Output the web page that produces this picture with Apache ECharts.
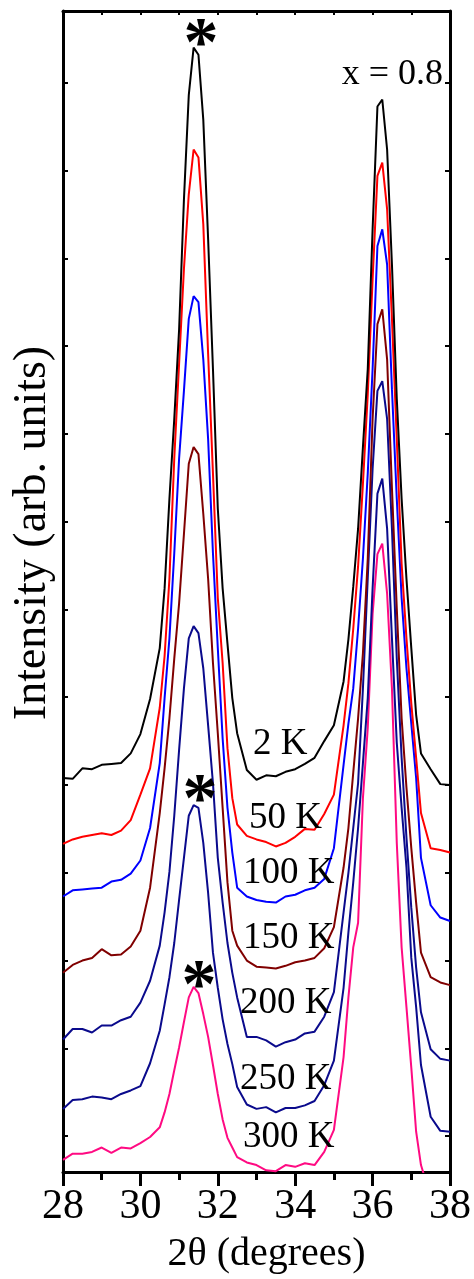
<!DOCTYPE html>
<html><head><meta charset="utf-8">
<script src="https://cdn.jsdelivr.net/npm/echarts@6/dist/echarts.min.js"></script>
<style>html,body{margin:0;padding:0;background:#fff}#c{width:474px;height:1279px}</style>
</head><body><div id="c"></div>
<script>
// 2θ (degrees)
const twoTheta = [28,28.25,28.5,28.75,29,29.25,29.5,29.75,30,30.25,
  30.5,30.625,30.75,30.875,31,31.125,31.25,31.375,31.5,31.625,31.75,31.875,32,32.125,32.25,32.375,32.5,
  32.75,33,33.25,33.5,33.75,34,34.25,34.5,34.75,35,35.25,
  35.375,35.5,35.625,35.75,35.875,36,36.125,36.25,36.375,36.5,36.625,36.75,36.875,37,37.125,37.25,
  37.5,37.75,38];

// Intensities (arb. units, curves offset vertically)
const int2K = [4.08,4.07,4.19,4.18,4.23,4.24,4.25,4.36,4.58,4.98,
  5.56,6.24,7.26,8.17,9.19,10.67,11.86,12.40,12.32,11.58,10.22,8.74,7.15,6.24,5.61,4.99,4.59,
  4.17,4.06,4.11,4.10,4.15,4.18,4.24,4.31,4.50,4.68,5.18,
  5.66,6.26,6.92,7.85,8.74,10.33,11.73,11.81,11.24,9.93,8.40,7.26,6.35,5.56,4.80,4.36,
  4.18,4.01,4.00];
const int50K = [3.33,3.38,3.41,3.43,3.45,3.43,3.48,3.60,3.89,4.19,
  4.88,5.47,6.35,7.72,8.80,9.88,10.73,11.24,11.15,10.39,8.91,7.55,6.13,5.39,4.42,3.85,3.55,
  3.42,3.38,3.35,3.30,3.34,3.41,3.50,3.49,3.67,3.89,4.68,
  5.16,5.78,6.49,7.43,8.45,9.76,10.94,11.09,10.56,9.31,7.94,6.52,5.67,4.93,4.31,3.68,
  3.28,3.26,3.23];
const int100K = [2.73,2.80,2.81,2.82,2.83,2.90,2.92,2.99,3.14,3.51,
  4.25,4.99,5.67,6.64,7.72,8.49,9.31,9.57,9.50,8.85,7.94,6.64,5.56,4.53,3.74,3.23,2.83,
  2.73,2.69,2.67,2.66,2.73,2.75,2.80,2.83,2.93,3.28,4.23,
  4.70,5.10,5.78,6.58,7.55,8.74,10.14,10.33,9.93,8.51,7.26,6.13,5.33,4.70,4.08,3.17,
  2.63,2.49,2.45];
const int150K = [1.86,1.95,2.00,2.03,2.13,2.06,2.07,2.16,2.34,2.83,
  3.68,4.19,4.76,5.44,6.07,6.86,7.66,7.85,7.77,7.09,6.35,5.39,4.59,3.74,2.89,2.34,2.17,
  2.00,1.93,1.92,1.91,1.94,1.98,2.00,2.03,2.14,2.38,3.06,
  3.51,4.14,4.76,5.50,6.58,8.17,9.25,9.42,8.85,7.38,6.01,4.76,3.97,3.28,2.66,2.09,
  1.81,1.75,1.72];
const int200K = [1.10,1.22,1.22,1.18,1.26,1.26,1.32,1.36,1.52,1.77,
  2.17,2.55,3.01,3.65,4.40,5.10,5.67,5.81,5.73,5.33,4.68,4.02,3.17,2.66,2.20,1.86,1.58,
  1.13,1.13,1.09,1.02,1.07,1.10,1.17,1.19,1.36,1.64,2.55,
  3.00,3.51,4.02,5.10,6.36,7.60,8.49,8.60,8.17,6.92,5.44,4.31,3.40,2.60,1.92,1.41,
  0.99,0.88,0.86];
const int250K = [0.31,0.41,0.42,0.45,0.44,0.42,0.48,0.52,0.57,0.83,
  1.20,1.50,1.81,2.20,2.69,3.17,3.65,3.77,3.74,3.34,2.77,2.09,1.69,1.33,1.05,0.82,0.56,
  0.36,0.31,0.33,0.27,0.32,0.32,0.35,0.40,0.58,0.86,1.69,
  2.32,2.89,3.51,4.25,4.99,6.24,7.32,7.49,6.92,5.67,4.48,3.74,3.06,2.03,1.47,0.81,
  0.22,0.06,0.05];
const int300K = [-0.27,-0.20,-0.20,-0.18,-0.13,-0.19,-0.13,-0.14,-0.08,-0.01,
  0.10,0.27,0.48,0.75,1.01,1.30,1.58,1.70,1.63,1.39,1.13,0.81,0.48,0.19,-0.02,-0.13,-0.24,
  -0.30,-0.33,-0.39,-0.40,-0.33,-0.35,-0.31,-0.33,-0.18,0.07,0.90,
  1.58,2.15,2.43,3.85,4.65,5.95,6.63,6.75,6.18,5.10,3.34,2.15,1.47,0.78,0.05,-0.33,
  -0.69,-0.75,-0.75];

const seriesNames = ['2 K','50 K','100 K','150 K','200 K','250 K','300 K'];
const seriesValues = [int2K,int50K,int100K,int150K,int200K,int250K,int300K];
const seriesColors = ['#000000','#ff0000','#0000ff','#800000','#0a0a8c','#0a0a8c','#ff0a82'];
const xTickMin = 28, xTickMax = 38;
const yMin = -0.409, yMax = 12.818;
const yTickValues = [0,1,2,3,4,5,6,7,8,9,10,11,12];

const FONT = "'Liberation Serif','Times New Roman',Times,serif";
const chart = echarts.init(document.getElementById('c'), null, {renderer:'canvas'});

const axisLineStyle = {color:'#000', width:3};
const series = seriesValues.map((vals, k) => ({
  name: seriesNames[k], type:'line', xAxisIndex:0, yAxisIndex:0,
  data: twoTheta.map((x,i)=>[x, vals[i]]),
  showSymbol:false, symbol:'none', clip:true,
  lineStyle:{color:seriesColors[k], width:2},
  itemStyle:{color:seriesColors[k]},
  z: 10 - k
}));

// label placement (pixels)
const tempPos = [[253,744],[249,818],[243,873],[243,938],[240,1003],[240,1079],[243,1137]];
const graphics = seriesNames.map((t,k)=>({
  type:'text', x:tempPos[k][0], y:tempPos[k][1], z:100,
  style:{text:t, font:'37px '+FONT, fill:'#000', textAlign:'left', textVerticalAlign:'middle', align:'left', verticalAlign:'middle'}
}));
graphics.push({type:'text', x:443, y:75, z:100,
  style:{text:'x = 0.8', font:'36px '+FONT, fill:'#000', textAlign:'right', textVerticalAlign:'middle', align:'right', verticalAlign:'middle'}});
[[201,31],[200,787],[199,973]].forEach(p=>graphics.push({type:'text', x:p[0], y:p[1]+16, z:100,
  style:{text:'*', font:'bold 70px '+FONT, fill:'#000', textAlign:'center', textVerticalAlign:'middle', align:'center', verticalAlign:'middle'}}));
graphics.push({type:'text', x:33, y:533, rotation:Math.PI/2, z:100,
  style:{text:'Intensity (arb. units)', font:'46px '+FONT, fill:'#000', textAlign:'center', textVerticalAlign:'middle', align:'center', verticalAlign:'middle'}});

const yAxisCommon = {type:'value', min:yMin, max:yMax,
  axisLine:{show:true, onZero:false, lineStyle:axisLineStyle},
  axisTick:{show:true, inside:true, length:5, customValues:yTickValues, lineStyle:{color:'#000', width:2}},
  axisLabel:{show:false}, splitLine:{show:false}};

chart.setOption({
  animation:false,
  backgroundColor:'#fff',
  grid:{left:63, right:22, top:11, bottom:104, containLabel:false},
  xAxis:[
    {type:'value', position:'bottom', min:xTickMin, max:xTickMax, interval:2,
     axisLine:{show:true, onZero:false, lineStyle:axisLineStyle},
     axisTick:{show:true, inside:false, length:14, lineStyle:{color:'#000', width:3}},
     minorTick:{show:true, splitNumber:2, length:8, lineStyle:{color:'#000', width:3}},
     axisLabel:{show:true, fontFamily:'Liberation Serif', fontSize:42, color:'#000', margin:14},
     splitLine:{show:false}, minorSplitLine:{show:false},
     name:'2θ (degrees)', nameLocation:'middle', nameGap:62,
     nameTextStyle:{fontFamily:'Liberation Serif', fontSize:40, color:'#000', padding:[0,0,0,20]}},
    {type:'value', position:'top', min:xTickMin, max:xTickMax, interval:1,
     axisLine:{show:true, onZero:false, lineStyle:axisLineStyle},
     axisTick:{show:true, inside:true, length:4, lineStyle:{color:'#000', width:2}},
     axisLabel:{show:false}, splitLine:{show:false}}
  ],
  yAxis:[
    Object.assign({position:'left'}, yAxisCommon),
    Object.assign({position:'right'}, yAxisCommon)
  ],
  series: series,
  graphic: graphics
});
</script></body></html>
